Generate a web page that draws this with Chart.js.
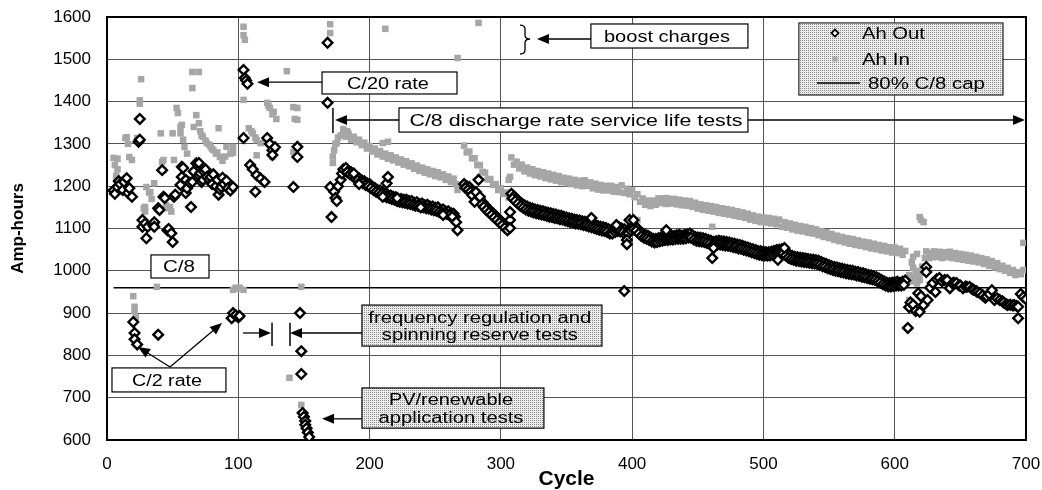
<!DOCTYPE html>
<html><head><meta charset="utf-8">
<script src="https://cdn.jsdelivr.net/npm/chart.js@4.4.1/dist/chart.umd.min.js"></script>
<style>html,body{margin:0;padding:0;background:#fff}#wrap{width:1042px;height:490px}</style>
</head><body><div id="wrap"><canvas id="c" width="1042" height="490"></canvas></div>
<script>
// ---- DATA (cycle, Amp-hours) ----
const ahOut = [
[5,1190],[6,1182],[8,1198],[9,1212],[10,1205],[12,1191],[13,1210],[15,1219],[16,1184],[17,1195],[19,1175],
[20,879],[21,853],[21,838],[23,826],[24,1305],[25,1310],[25,1359],
[27,1120],[27,1104],[29,1112],[30,1077],[31,1104],[35,1108],[36,1115],[36,1104],[39,1148],[40,1144],[39,849],
[42,1238],[43,1175],[44,1172],[46,1096],[47,1099],[49,1089],[50,1068],[51,1175],[52,1180],[56,1203],[57,1246],[57,1222],[58,1243],[60,1184],[60,1215],[61,1195],[63,1208],[64,1151],[65,1210],[66,1235],[68,1254],[70,1255],[70,1225],[71,1231],[72,1210],[73,1215],[74,1234],[75,1240],[76,1222],[78,1216],[79,1222],[80,1205],[81,1228],[83,1200],[84,1215],[85,1180],[86,1192],[87,1198],[88,1220],[89,1205],[91,1213],[92,1195],[94,1190],[96,1198],
[95,888],[96,900],[98,895],[100,890],[101,893],
[104,1314],[104,1475],[105,1456],[106,1450],[107,1442],[109,1250],[111,1240],[113,1187],[114,1226],[117,1218],[120,1210],[122,1314],[124,1300],[126,1285],[126,1274],[128,1292],[142,1198],[145,1293],[145,1269],
[147,900],[148,810],[148,756],[149,664],[150,655],[151,645],[151,636],[152,628],[153,618],[154,607],
[168,1539],[168,1397],[170,1198],[171,1127],[173,1187],[174,1172],[175,1165],[176,1200],[178,1215],[179,1230],[180,1240],
[182,1243],[184,1236],[186,1233],[188,1228],[190,1222],[192,1219],[194,1214],[196,1212],[198,1207],[200,1205],[202,1199],[204,1196],[206,1191],[208,1190],[210,1185],[212,1183],[214,1179],[216,1178],[218,1175],[220,1174],[222,1170],[224,1170],[226,1168],[228,1168],[230,1165],[232,1165],[234,1161],[236,1162],[238,1158],[240,1159],[242,1155],[244,1156],[246,1152],[248,1152],[250,1149],[252,1150],[254,1143],[256,1145],[258,1140],[260,1141],[262,1136],[264,1135],[265,1128],
[183,1233],[185,1228],[187,1224],[189,1219],[191,1214],[193,1210],[195,1207],[197,1203],[199,1200],[201,1196],[203,1191],[205,1187],[207,1184],[209,1181],[211,1177],[213,1174],[215,1172],[217,1170],[219,1168],[221,1165],[223,1163],[225,1162],[227,1161],[229,1159],[231,1158],[233,1156],[235,1154],[237,1153],[239,1151],[241,1150],[243,1148],[245,1147],[247,1145],[249,1143],[251,1142],[253,1139],[255,1137],[257,1135],[259,1134],[261,1131],[263,1128],
[188,1230],[192,1205],[210,1175],[213,1207],[214,1222],[221,1172],[239,1150],[256,1132],[266,1115],[267,1096],
[272,1205],[274,1200],[276,1198],[278,1190],[280,1184],[282,1178],[284,1170],[286,1162],[288,1155],[290,1148],[292,1142],[294,1136],[296,1130],[298,1124],[300,1118],[302,1112],[304,1106],[306,1100],
[273,1196],[275,1192],[277,1187],[279,1180],[281,1174],[283,1167],[285,1159],[287,1151],[289,1144],[291,1138],[293,1132],[295,1126],[297,1120],[299,1114],[301,1108],[303,1102],[305,1096],
[283,1215],[278,1179],[281,1186],[284,1175],[280,1163],[307,1120],[307,1139],[307,1101],
[308,1182],[310,1176],[312,1170],[314,1164],[316,1159],[318,1155],[320,1152],[322,1149],[324,1147],[326,1145],[328,1144],[330,1142],[332,1141],[334,1139],[336,1137],[338,1136],[340,1134],[342,1133],[344,1131],[346,1130],[348,1128],[350,1126],[352,1124],[354,1123],[356,1121],[358,1120],[360,1119],[362,1117],[364,1116],[366,1114],[368,1112],[370,1111],[372,1108],[374,1106],[376,1104],[378,1103],[380,1101],[382,1098],[384,1094],[386,1098],[388,1102],[390,1103],[392,1100],[394,1098],[396,1092],[398,1100],[400,1106],[402,1106],[404,1100],[406,1092],[408,1088],[410,1085],[412,1083],[414,1079],[416,1076],[418,1075],[420,1077],[422,1079],[424,1080],[426,1082],[428,1081],[430,1083],[432,1082],[434,1084],[436,1085],[438,1083],[440,1085],[442,1086],[444,1088],[446,1084],[448,1080],[450,1079],[452,1078],[454,1077],[456,1075],[458,1073],[460,1071],[462,1068],[464,1070],[466,1071],[468,1070],[470,1069],[472,1068],[474,1067],[476,1065],[478,1064],[480,1062],[482,1061],[484,1059],[486,1057],[488,1055],[490,1053],[492,1051],[494,1049],[496,1047],[498,1046],[500,1045],[502,1044],[504,1044],[506,1045],[508,1047],[510,1049],[512,1050],[514,1051],[516,1047],[518,1041],[520,1038],[522,1035],[524,1033],[526,1032],[528,1031],[530,1030],[532,1029],[534,1028],[536,1027],[538,1026],[540,1025],[542,1024],[544,1021],[546,1018],[548,1016],[550,1013],[552,1011],[554,1009],[556,1008],[558,1006],[560,1005],[562,1003],[564,1002],[566,1001],[568,1000],[570,998],[572,997],[574,995],[576,994],[578,992],[580,990],[582,989],[584,987],[586,985],[588,982],[590,978],[592,975],[594,972],[596,971],[598,972],[600,973],[602,974],[604,972],[606,974],[608,977],
[309,1171],[311,1165],[313,1159],[315,1153],[317,1149],[319,1145],[321,1142],[323,1140],[325,1138],[327,1136],[329,1135],[331,1133],[333,1132],[335,1130],[337,1128],[339,1127],[341,1125],[343,1124],[345,1122],[347,1121],[349,1119],[351,1117],[353,1115],[355,1114],[357,1112],[359,1111],[361,1110],[363,1108],[365,1107],[367,1105],[369,1103],[371,1101],[373,1099],[375,1097],[377,1095],[379,1094],[381,1092],[383,1088],[385,1088],[387,1092],[389,1094],[391,1093],[393,1091],[395,1087],[397,1088],[399,1095],[401,1098],[403,1095],[405,1088],[407,1082],[409,1078],[411,1076],[413,1073],[415,1069],[417,1067],[419,1068],[421,1070],[423,1071],[425,1073],[427,1073],[429,1074],[431,1074],[433,1075],[435,1076],[437,1076],[439,1076],[441,1077],[443,1079],[445,1078],[447,1074],[449,1071],[451,1070],[453,1069],[455,1068],[457,1066],[459,1064],[461,1061],[463,1061],[465,1062],[467,1062],[469,1061],[471,1060],[473,1059],[475,1058],[477,1056],[479,1055],[481,1053],[483,1052],[485,1050],[487,1048],[489,1046],[491,1044],[493,1042],[495,1040],[497,1038],[499,1037],[501,1036],[503,1036],[505,1036],[507,1038],[509,1040],[511,1041],[513,1042],[515,1041],[517,1036],[519,1031],[521,1028],[523,1026],[525,1024],[527,1023],[529,1022],[531,1021],[533,1020],[535,1019],[537,1018],[539,1017],[541,1016],[543,1014],[545,1011],[547,1009],[549,1006],[551,1004],[553,1002],[555,1000],[557,999],[559,997],[561,996],[563,994],[565,993],[567,992],[569,991],[571,989],[573,988],[575,986],[577,985],[579,983],[581,981],[583,980],[585,978],[587,975],[589,972],[591,968],[593,965],[595,963],[597,963],[599,964],[601,965],[603,965],[605,965],[607,967],
[369,1125],[388,1108],[396,1073],[396,1063],[394,952],[398,1120],[401,1120],[426,1096],[461,1030],[462,1054],[511,1026],[516,1054],
[610,865],[611,914],[612,925],[614,920],[616,905],[618,947],[619,903],[620,940],[622,919],[624,1009],[624,997],[625,931],[627,960],[629,971],[631,950],[632,980],[634,983],[636,975],[638,978],[640,978],[642,959],[644,970],[645,972],[647,971],[649,965],[650,965],[652,959],[654,963],[655,962],[657,962],[659,957],[660,955],[662,952],[663,950],[665,947],[667,942],[669,936],[670,940],[672,945],[674,954],[676,931],[678,935],[680,931],[682,928],[683,925],[685,921],[686,919],[688,920],[690,918],[691,919],[693,917],[694,915],[694,888],[696,945],[698,938],[700,933]
];
const ahIn = [
[5,1267],[6,1250],[7,1215],[7,1225],[8,1240],[8,1265],[14,1314],[15,1316],[16,1300],[17,1269],[19,1262],
[20,940],[21,915],[21,905],[22,890],[23,1314],[25,1403],[25,1395],[26,1453],
[28,1148],[29,1151],[29,1140],[30,1198],[32,1185],[33,1186],[34,1170],[36,1207],[38,962],
[41,1325],[42,1257],[43,1262],[43,1238],[45,1155],[47,1148],[48,1151],[49,1140],[50,1325],[51,1262],
[53,1385],[54,1373],[56,1340],[56,1325],[57,1345],[58,1310],[59,1293],[61,1277],
[65,1470],[65,1432],[66,1340],[68,1368],[70,1470],[70,1349],[71,1330],[72,1320],[73,1317],[75,1308],[76,1302],[78,1298],[79,1293],[80,1288],[81,1285],[83,1277],[84,1280],[85,1337],[86,1269],[88,1260],[90,1270],[91,1293],[94,1277],[96,1293],[96,1279],
[96,955],[98,960],[99,958],[101,960],[104,955],
[104,1577],[104,1557],[105,1546],[104,1404],[108,1337],[110,1330],[111,1325],[113,1315],[114,1309],[117,1302],[114,1273],[122,1397],[123,1390],[124,1385],[126,1370],[127,1376],[129,1359],[126,1269],[137,1472],[139,747],[142,1387],[143,1359],[142,1280],[145,1385],[145,1357],
[148,962],[148,810],[148,683],[149,660],[150,650],[151,640],[152,630],[153,618],[154,608],
[170,1583],[170,1562],[172,1255],[172,1270],[173,1285],[174,1300],[175,1302],[176,1315],[178,1320],[180,1325],[180,1335],[183,1330],
[182,1317],[184,1324],[186,1310],[188,1317],[190,1304],[192,1310],[194,1297],[196,1303],[198,1289],[200,1295],[202,1282],[204,1289],[206,1275],[208,1283],[210,1270],[212,1277],[214,1265],[216,1273],[218,1261],[220,1268],[222,1256],[224,1263],[226,1251],[228,1259],[230,1247],[232,1254],[234,1241],[236,1249],[238,1236],[240,1244],[242,1232],[244,1240],[246,1228],[248,1236],[250,1224],[252,1233],[254,1221],[256,1228],[258,1215],[260,1223],[262,1210],[264,1218],[266,1205],
[210,1302],[214,1305],[267,1191],[212,1572],[267,1503],[283,1586],
[272,1296],[274,1280],[276,1282],[278,1266],[280,1266],[282,1250],[284,1250],[286,1234],[288,1232],[290,1216],[292,1217],[294,1203],[296,1205],[298,1191],[300,1195],[302,1182],[304,1185],[306,1173],
[306,1215],[307,1222],
[308,1268],[310,1251],[312,1258],[314,1242],[316,1251],[318,1235],[320,1244],[322,1230],[324,1240],[326,1226],[328,1236],[330,1223],[332,1233],[334,1219],[336,1230],[338,1216],[340,1227],[342,1213],[344,1224],[346,1210],[348,1220],[350,1207],[352,1218],[354,1205],[356,1215],[358,1202],[360,1213],[362,1200],[364,1214],[366,1201],[368,1209],[370,1195],[372,1206],[374,1192],[376,1203],[378,1190],[380,1201],[382,1190],[384,1201],[386,1187],[388,1198],[390,1186],[392,1202],[394,1184],[396,1194],[398,1181],[400,1191],[402,1174],[404,1181],[406,1163],[408,1171],[410,1156],[412,1166],[414,1153],[416,1166],[418,1156],[420,1171],[422,1160],[424,1171],[426,1158],[428,1170],[430,1159],[432,1170],[434,1157],[436,1168],[438,1155],[440,1166],[442,1154],[444,1165],[446,1151],[448,1161],[450,1147],[452,1157],[454,1144],[456,1155],[458,1142],[460,1153],[462,1140],[464,1151],[466,1137],[468,1148],[470,1135],[472,1146],[474,1133],[476,1144],[478,1130],[480,1141],[482,1128],[484,1138],[486,1125],[488,1135],[490,1121],[492,1131],[494,1118],[496,1128],[498,1115],[500,1126],[502,1114],[504,1125],[506,1112],[508,1123],[510,1110],[512,1121],[514,1104],[516,1115],[518,1102],[520,1112],[522,1098],[524,1109],[526,1095],[528,1106],[530,1093],[532,1104],[534,1090],[536,1101],[538,1088],[540,1098],[542,1084],[544,1094],[546,1080],[548,1091],[550,1077],[552,1087],[554,1073],[556,1083],[558,1070],[560,1080],[562,1067],[564,1077],[566,1064],[568,1075],[570,1061],[572,1072],[574,1059],[576,1069],[578,1056],[580,1067],[582,1053],[584,1064],[586,1051],[588,1061],[590,1048],[592,1059],[594,1046],[596,1056],[598,1043],[600,1055],[602,1042],[604,1052],[606,1038],[608,1047],
[404,1120],[426,1172],[461,1104],
[610,978],[611,931],[611,990],[612,985],[613,975],[613,1020],[614,1033],[614,1007],[615,985],[616,1000],[617,1040],[617,970],[618,990],[619,978],[619,1127],[620,1120],[620,995],[621,1010],[622,1115],[623,1030],[624,1046],[626,1030],[627,1042],[629,1032],[630,1046],[632,1033],[634,1045],[636,1030],[638,1044],[640,1032],[642,1045],[644,1030],[646,1042],[648,1028],[650,1040],[652,1026],[654,1038],[656,1024],[658,1036],[660,1022],[662,1033],[664,1020],[666,1030],[668,1016],[670,1027],[672,1012],[674,1023],[676,1008],[678,1018],[680,1004],[682,1012],[684,1000],[686,1007],[688,995],[690,1002],[692,990],[694,997],[696,992],[698,1002],[698,1066]
];
const capLevel = 960;          // 80% C/8 capacity
const capCycles = [5, 700];    // extent of the reference line
const seriesNames = ['Ah Out', 'Ah In', '80% C/8 cap'];

// ---- annotation content in data coordinates ----
const noteBoxes = [
  {x0:368.6,x1:488.2,y0:1526.7,y1:1583.5,fill:'white'},
  {x0:163.8,x1:266.6,y0:1418,y1:1470,fill:'white'},
  {x0:222.4,x1:488.2,y0:1328,y1:1385,fill:'white'},
  {x0:33.5,x1:77.7,y0:983,y1:1037.5,fill:'white'},
  {x0:3.8,x1:90.6,y0:713.6,y1:770.4,fill:'white'},
  {x0:194.2,x1:377,y0:822,y1:919,fill:'stipple'},
  {x0:194.2,x1:332.8,y0:628,y1:723,fill:'stipple'}
];
const noteTexts = [
  ['boost charges',426.5,1553.9,126],
  ['C/20 rate',214,1444,82],
  ['C/8 discharge rate service life tests',357.2,1356.5,333],
  ['C/8',54.8,1010,32],
  ['C/2 rate',45.7,742,70],
  ['frequency regulation and',284,891,223],
  ['spinning reserve tests',284,850.6,196],
  ['PV/renewable',262,697,124],
  ['application tests',262,654.4,145]
];
const noteArrows = [
  [[368.6,1548],[327.5,1548]],
  [[163.8,1446],[114.3,1446]],
  [[222.4,1356.5],[173.7,1356.5]],
  [[488.2,1356.5],[699.2,1356.5]],
  [[48,772.7],[23.6,820]],
  [[48,772.7],[87.6,876.7]],
  [[194.2,853],[139.4,853]],
  [[103.6,853],[124.9,853]],
  [[194.2,650],[163.8,650]]
];
const noteBars = [[172.1,1326,1385],[139.4,822,877],[125.7,822,877]];
const braceSpec = {xL:314.6, xT:322.2, yTop:1581, yBot:1512.5, yMid:1548};
const legendSpec = {x0:527,x1:682.5,y0:1415.6,y1:1586, mx:554.5, tx:575, tx3:579.6, lx0:540.8, lx1:573.5, rows:[1562,1500.7,1444], widths:[63,48,117]};

// stipple pattern
function makeStipple(ctx){
  const pc=document.createElement('canvas'); pc.width=2; pc.height=2;
  const g=pc.getContext('2d'); g.fillStyle='#ececec'; g.fillRect(0,0,2,2);
  g.fillStyle='#8c8c8c'; g.fillRect(0,0,1,1);
  return ctx.createPattern(pc,'repeat');
}
const FONT='"Liberation Sans", Arial, sans-serif';
function fitText(ctx,str,x,y,w,align,size){
  size=size||16;
  ctx.save(); ctx.font=size+'px '+FONT; ctx.fillStyle='#000';
  const mw=ctx.measureText(str).width; const s=w/mw;
  ctx.translate(x,y+0.716*size/2); ctx.scale(s,1);
  ctx.textAlign=align||'center'; ctx.textBaseline='alphabetic';
  ctx.fillText(str,0,0); ctx.restore();
}
function arrow(ctx,x1,y1,x2,y2){
  const a=Math.atan2(y2-y1,x2-x1), L=12, H=5;
  ctx.beginPath(); ctx.moveTo(x1,y1); ctx.lineTo(x2-Math.cos(a)*L*0.8,y2-Math.sin(a)*L*0.8); ctx.stroke();
  ctx.beginPath(); ctx.moveTo(x2,y2);
  ctx.lineTo(x2-Math.cos(a)*L+Math.sin(a)*H, y2-Math.sin(a)*L-Math.cos(a)*H);
  ctx.lineTo(x2-Math.cos(a)*L-Math.sin(a)*H, y2-Math.sin(a)*L+Math.cos(a)*H);
  ctx.closePath(); ctx.fill();
}

const annotPlugin = {
  id:'annot',
  beforeDatasetsDraw(chart){
    const {ctx, chartArea:a} = chart;
    ctx.save(); ctx.strokeStyle='#000'; ctx.lineWidth=2;
    ctx.strokeRect(a.left,a.top,a.right-a.left,a.bottom-a.top); ctx.restore();
  },
  afterDatasetsDraw(chart){
    const {ctx} = chart; const X=chart.scales.x, Y=chart.scales.y;
    const px=v=>X.getPixelForValue(v), py=v=>Y.getPixelForValue(v);
    const stip=makeStipple(ctx);
    ctx.save();
    ctx.lineWidth=1.3; ctx.strokeStyle='#000'; ctx.fillStyle='#000';
    noteArrows.forEach(([f,t])=>arrow(ctx,px(f[0]),py(f[1]),px(t[0]),py(t[1])));
    ctx.lineWidth=1.5;
    noteBars.forEach(([x,y0,y1])=>{ctx.beginPath();ctx.moveTo(px(x),py(y0));ctx.lineTo(px(x),py(y1));ctx.stroke();});
    // brace
    const b=braceSpec; const xl=px(b.xL), xt=px(b.xT), xm=(xl+xt)/2, yt=py(b.yTop), yb=py(b.yBot), ym=py(b.yMid);
    ctx.lineWidth=1.3; ctx.beginPath();
    ctx.moveTo(xl,yt); ctx.quadraticCurveTo(xm,yt,xm,yt+4); ctx.lineTo(xm,ym-4); ctx.quadraticCurveTo(xm,ym,xt,ym);
    ctx.quadraticCurveTo(xm,ym,xm,ym+4); ctx.lineTo(xm,yb-4); ctx.quadraticCurveTo(xm,yb,xl,yb); ctx.stroke();
    // boxes
    ctx.lineWidth=1.2;
    noteBoxes.forEach(bx=>{
      const x0=px(bx.x0), x1=px(bx.x1), y0=py(bx.y1), y1=py(bx.y0);
      ctx.fillStyle = bx.fill==='white' ? '#fff' : stip;
      ctx.fillRect(x0,y0,x1-x0,y1-y0); ctx.strokeRect(x0,y0,x1-x0,y1-y0);
    });
    noteTexts.forEach(([t,x,y,w])=>fitText(ctx,t,px(x),py(y),w,'center',16));
    // legend
    const L=legendSpec; const lx0=px(L.x0), lx1=px(L.x1), ly0=py(L.y1), ly1=py(L.y0);
    ctx.fillStyle=stip; ctx.fillRect(lx0,ly0,lx1-lx0,ly1-ly0); ctx.lineWidth=1; ctx.strokeRect(lx0,ly0,lx1-lx0,ly1-ly0);
    const mx=px(L.mx);
    let yy=py(L.rows[0]);
    ctx.beginPath(); ctx.moveTo(mx,yy-3.5); ctx.lineTo(mx+3.5,yy); ctx.lineTo(mx,yy+3.5); ctx.lineTo(mx-3.5,yy); ctx.closePath();
    ctx.fillStyle='#fff'; ctx.fill(); ctx.lineWidth=1.8; ctx.stroke();
    yy=py(L.rows[1]); ctx.fillStyle='#a6a6a6'; ctx.fillRect(mx-2.5,yy-2.5,5,5);
    yy=py(L.rows[2]); ctx.lineWidth=1.6; ctx.beginPath(); ctx.moveTo(px(L.lx0),yy); ctx.lineTo(px(L.lx1),yy); ctx.stroke();
    fitText(ctx,seriesNames[0],px(L.tx),py(L.rows[0]),L.widths[0],'left',16);
    fitText(ctx,seriesNames[1],px(L.tx),py(L.rows[1]),L.widths[1],'left',16);
    fitText(ctx,seriesNames[2],px(L.tx3),py(L.rows[2]),L.widths[2],'left',16);
    ctx.restore();
  }
};

new Chart(document.getElementById('c'), {
  type:'scatter',
  data:{datasets:[
    {label:seriesNames[0], data:ahOut.map(p=>({x:p[0],y:p[1]})), pointStyle:'rectRot', pointRadius:4.8,
     pointBackgroundColor:'#fff', pointBorderColor:'#000', pointBorderWidth:2.4, showLine:false},
    {label:seriesNames[1], data:ahIn.map(p=>({x:p[0],y:p[1]})), pointStyle:'rect', pointRadius:4.6,
     pointBackgroundColor:'#a6a6a6', pointBorderWidth:0, pointBorderColor:'rgba(0,0,0,0)', showLine:false},
    {label:seriesNames[2], type:'line', data:capCycles.map(c=>({x:c,y:capLevel})), borderColor:'#000', borderWidth:1.6, pointRadius:0, fill:false}
  ]},
  options:{
    responsive:false, animation:false, devicePixelRatio:1,
    layout:{padding:{top:17,right:16,left:0,bottom:0}},
    plugins:{legend:{display:false}, tooltip:{enabled:false}},
    scales:{
      x:{type:'linear', min:0, max:700,
         ticks:{stepSize:100, color:'#000', padding:14, font:{family:FONT,size:17}, callback:v=>String(v)},
         grid:{color:'#555', lineWidth:1, drawTicks:false},
         border:{color:'#000', width:2},
         title:{display:true, text:'Cycle', color:'#000', font:{family:FONT,size:21,weight:'bold',lineHeight:1.0}, padding:{top:0,bottom:0}},
         afterFit:s=>{s.height=50; s.paddingLeft=0; s.paddingRight=0;}},
      y:{type:'linear', min:600, max:1600,
         ticks:{stepSize:100, color:'#000', padding:16, font:{family:FONT,size:17}, callback:v=>String(v)},
         grid:{color:'#555', lineWidth:1, drawTicks:false},
         border:{color:'#000', width:2},
         title:{display:true, text:'Amp-hours', color:'#000', font:{family:FONT,size:17,weight:'bold',lineHeight:1.0}, padding:{top:10,bottom:0}},
         afterFit:s=>{s.width=107; s.paddingTop=0; s.paddingBottom=0;}}
    }
  },
  plugins:[annotPlugin]
});
</script></body></html>
